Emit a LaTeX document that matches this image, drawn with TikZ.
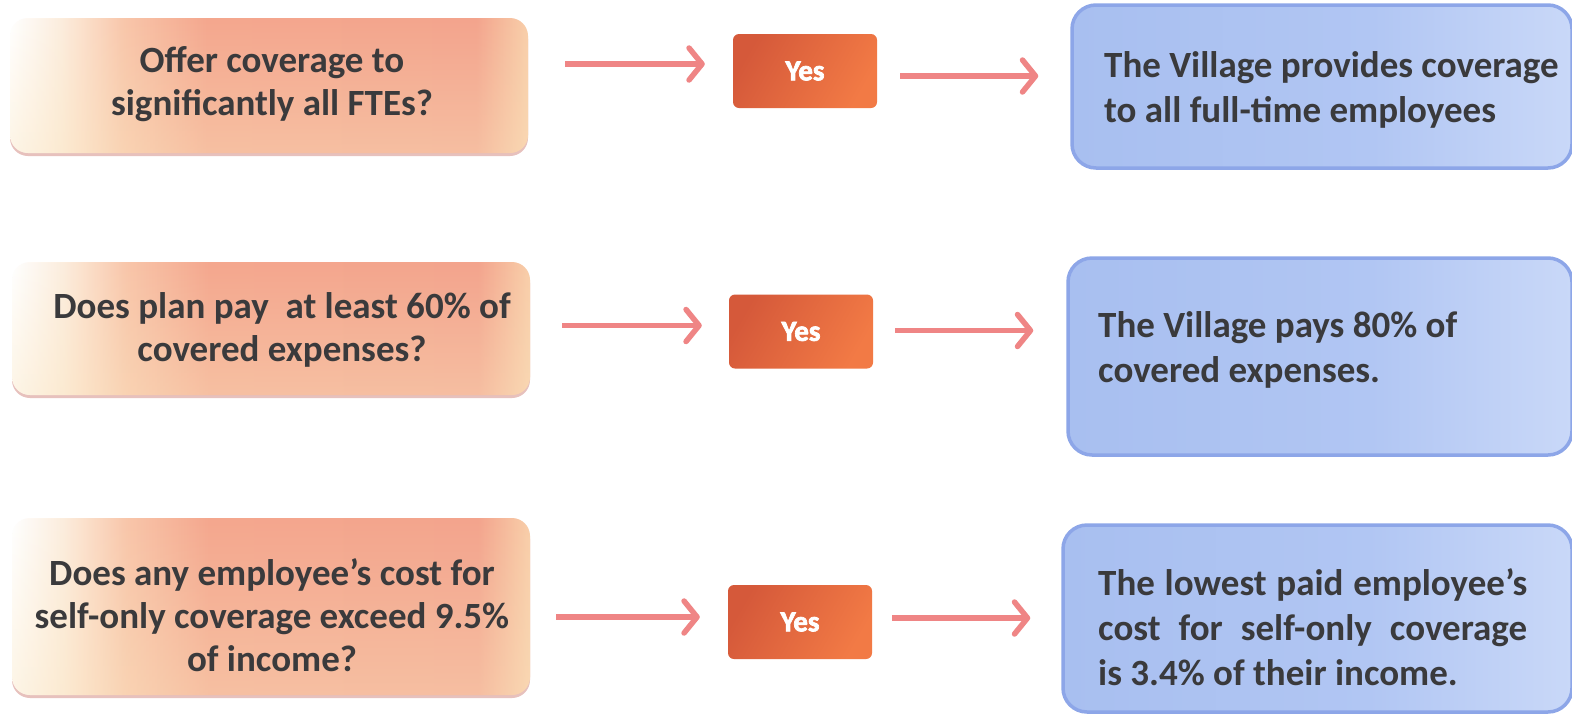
\documentclass[tikz,border=0pt]{standalone}
\usepackage{fontspec}
\setmainfont{Carlito}
\newfontface\heavy{Carlito Bold}[FakeBold=2.5]
\usetikzlibrary{arrows.meta,calc,shadows,fadings}
\definecolor{txt}{HTML}{3A3A3C}
\definecolor{qpeach}{HTML}{FCEDDD}
\definecolor{qmid}{HTML}{F8C6AA}
\definecolor{qsalmon}{HTML}{F4A78E}
\definecolor{qsalmonb}{HTML}{F3A48D}
\definecolor{qyellow}{HTML}{F8CFAA}
\definecolor{qbot}{HTML}{FBE6C0}
\definecolor{bA}{HTML}{A8BFF0}
\definecolor{bB}{HTML}{B1C6F3}
\definecolor{bC}{HTML}{C9D8F8}
\definecolor{bborder}{HTML}{8DA6E8}
\definecolor{yA}{HTML}{D5593A}
\definecolor{yB}{HTML}{F27A45}
\definecolor{arrcol}{HTML}{EF8585}
\definecolor{qshadow}{HTML}{DDA8A2}
\pgfdeclarehorizontalshading{qshade}{100bp}{color(0bp)=(white); color(25bp)=(white); color(30bp)=(qpeach); color(36bp)=(qmid); color(44bp)=(qsalmon); color(70bp)=(qsalmonb); color(75bp)=(qyellow); color(100bp)=(qyellow)}
\pgfdeclarehorizontalshading{bshade}{100bp}{color(0bp)=(bA); color(25bp)=(bA); color(55bp)=(bB); color(75bp)=(bC); color(100bp)=(bC)}
\tikzset{
  qbox/.style={rounded corners=18pt, shading=qshade, shading angle=0, draw=none,
    drop shadow={shadow xshift=0pt, shadow yshift=-3pt, opacity=.7, fill=qshadow},
    postaction={fill=qbot, path fading=north, fill opacity=.4}},
  yesbox/.style={rounded corners=6pt, left color=yA, right color=yB, shading angle=60,
    text=white, font=\fontsize{29}{30}\heavy, minimum width=144pt, minimum height=74pt},
  bbox/.style={rounded corners=24pt, shading=bshade, shading angle=0, draw=bborder, line width=3.5pt},
  qtext/.style={text=txt, font=\fontsize{37}{43}\selectfont\bfseries, align=center},
  btext/.style={text=txt, font=\fontsize{37}{45}\selectfont\bfseries, inner sep=0pt},
  arr/.style={draw=arrcol, line width=5.5pt, -{Straight Barb[length=13pt,width=32pt,round]}}
}
\begin{document}
\begin{tikzpicture}[x=1pt,y=-1pt]
\useasboundingbox (0,0) rectangle (1572,716);
\fill[white] (0,0) rectangle (1572,716);
% question boxes
\node[qbox, minimum width=518pt, minimum height=135pt] (q1) at (269,85.5) {};
\node[qbox, minimum width=518pt, minimum height=133pt] (q2) at (271,328.5) {};
\node[qbox, minimum width=518pt, minimum height=177pt] (q3) at (271,606.5) {};
\node[qtext] (t1) at (272,84) {Offer coverage to\\significantly all FTEs?};
\node[qtext] (t2) at (282,330) {Does plan pay\ \ at least 60\% of\\covered expenses?};
\node[qtext] (t3) at (272,615) {Does any employee’s cost for\\self-only coverage exceed 9.5\%\\of income?};
% yes boxes
\node[yesbox] (y1) at (805,71) {Yes};
\node[yesbox] (y2) at (801,331.5) {Yes};
\node[yesbox] (y3) at (800,622) {Yes};
% blue boxes
\node[bbox, minimum width=500pt, minimum height=163pt] (b1) at (1322,86.5) {};
\node[bbox, minimum width=504pt, minimum height=197pt] (b2) at (1320,356.5) {};
\node[bbox, minimum width=509pt, minimum height=187pt] (b3) at (1317.5,618.5) {};
\node[btext, anchor=west, align=left] (u1) at (1104,90) {The Village provides coverage\\to all full-time employees};
\node[btext, anchor=west, align=left] (u2) at (1098,350) {The Village pays 80\% of\\covered expenses.};
\node[btext, anchor=west, text width=429pt, align=justify] (u3) at (1098,627) {The lowest paid employee’s\linebreak cost for self-only coverage\linebreak is 3.4\% of their income.};
% arrows
\draw[arr] ($(q1.east|-y1.west)+(37,-7)$) -- ($(y1.west)+(-28,-7)$);
\draw[arr] ($(y1.east)+(23,5)$) -- ($(b1.west|-y1.east)+(-32,5)$);
\draw[arr] ($(q2.east|-y2.west)+(32,-6)$) -- ($(y2.west)+(-27,-6)$);
\draw[arr] ($(y2.east)+(22,-1)$) -- ($(b2.west|-y2.east)+(-33,-1)$);
\draw[arr] ($(q3.east|-y3.west)+(26,-5)$) -- ($(y3.west)+(-28,-5)$);
\draw[arr] ($(y3.east)+(20,-4)$) -- ($(b3.west|-y3.east)+(-31,-4)$);
\end{tikzpicture}
\end{document}
